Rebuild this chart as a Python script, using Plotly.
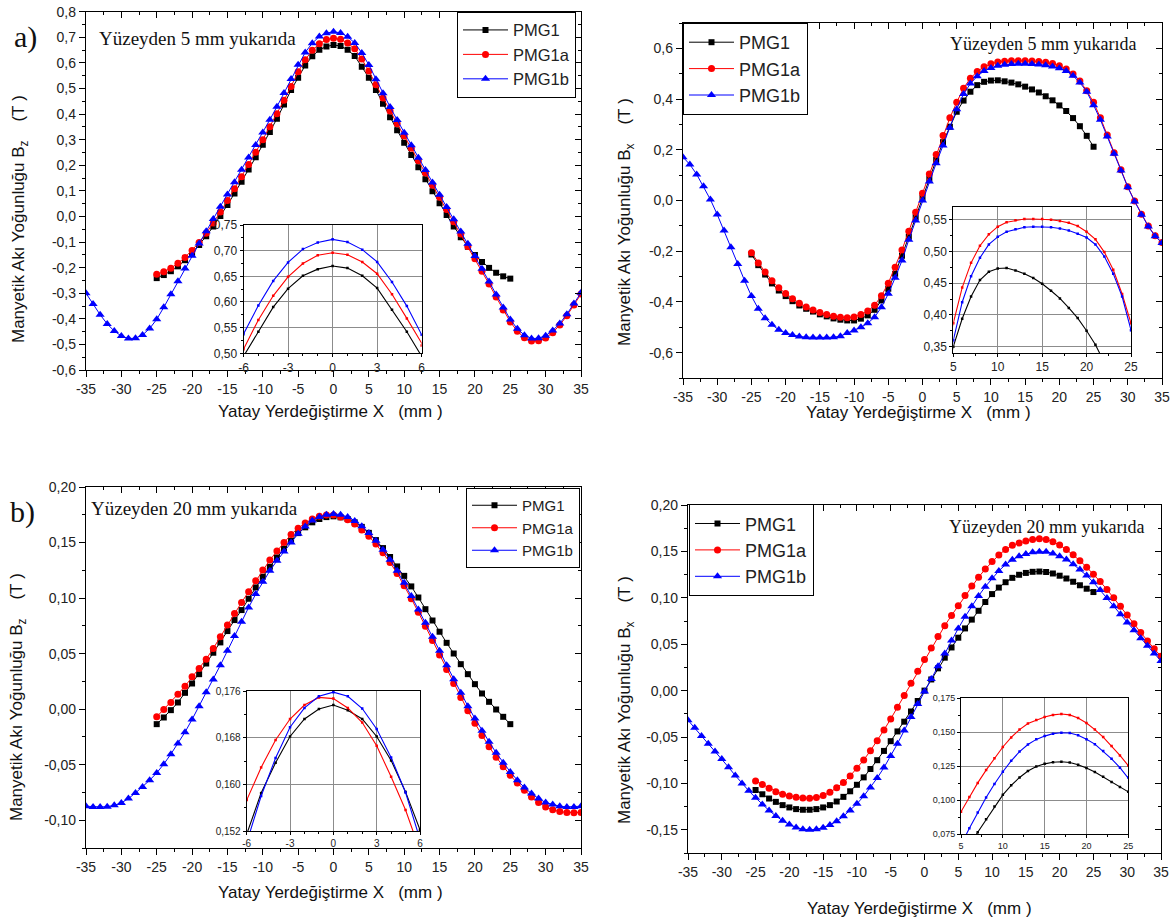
import plotly.graph_objects as go

W, H = 1175, 922

# ---------------- data (x in mm, B in Tesla) ----------------
X_B = list(range(-35, 36))   # PMG1b span
X_A = list(range(-25, 36))   # PMG1a span
X_K = list(range(-25, 26))   # PMG1 span

# a) Bz, 5 mm above surface
A_PMG1 = [-0.241, -0.229, -0.214, -0.195, -0.171, -0.143, -0.112, -0.077, -0.039, 0.002,
          0.045, 0.090, 0.136, 0.183, 0.231, 0.280, 0.330, 0.382, 0.437, 0.494,
          0.542, 0.590, 0.626, 0.651, 0.664, 0.670, 0.666, 0.651, 0.627, 0.585,
          0.542, 0.494, 0.440, 0.388, 0.337, 0.288, 0.240, 0.192, 0.145, 0.098,
          0.052, 0.006, -0.039, -0.081, -0.118, -0.151, -0.178, -0.201, -0.220, -0.234, -0.243]
A_PMG1a = [-0.226, -0.216, -0.202, -0.183, -0.160, -0.133, -0.102, -0.066, -0.026, 0.017,
           0.062, 0.108, 0.155, 0.203, 0.251, 0.300, 0.350, 0.401, 0.454, 0.508,
           0.565, 0.612, 0.649, 0.675, 0.691, 0.696, 0.692, 0.678, 0.655, 0.615,
           0.568, 0.515, 0.463, 0.412, 0.362, 0.314, 0.266, 0.218, 0.170, 0.122,
           0.075, 0.027, -0.021, -0.069, -0.117, -0.165, -0.214, -0.264, -0.315, -0.366,
           -0.412, -0.449, -0.474, -0.487, -0.486, -0.475, -0.454, -0.424, -0.388, -0.346, -0.303]
A_PMG1b = [-0.300, -0.342, -0.384, -0.420, -0.448, -0.467, -0.477, -0.476, -0.463, -0.438,
           -0.402, -0.355, -0.304, -0.253, -0.203, -0.154, -0.106, -0.058, -0.010, 0.038,
           0.086, 0.134, 0.182, 0.230, 0.279, 0.328, 0.378, 0.429, 0.482, 0.537,
           0.593, 0.641, 0.677, 0.703, 0.716, 0.722, 0.717, 0.702, 0.678, 0.639,
           0.592, 0.536, 0.481, 0.428, 0.377, 0.327, 0.278, 0.229, 0.181, 0.133,
           0.085, 0.037, -0.011, -0.059, -0.107, -0.155, -0.204, -0.254, -0.305, -0.356,
           -0.403, -0.439, -0.464, -0.477, -0.476, -0.466, -0.446, -0.418, -0.382, -0.340, -0.298]

# a) Bx, 5 mm above surface
B_PMG1 = [-0.213, -0.255, -0.292, -0.327, -0.355, -0.377, -0.397, -0.414, -0.427, -0.438,
          -0.449, -0.457, -0.465, -0.470, -0.473, -0.473, -0.466, -0.453, -0.431, -0.394,
          -0.348, -0.289, -0.218, -0.143, -0.066, 0.011, 0.086, 0.160, 0.230, 0.291,
          0.350, 0.394, 0.429, 0.455, 0.468, 0.473, 0.474, 0.470, 0.465, 0.458,
          0.449, 0.438, 0.426, 0.411, 0.395, 0.375, 0.353, 0.325, 0.293, 0.255, 0.212]
B_PMG1a = [-0.206, -0.246, -0.282, -0.316, -0.344, -0.367, -0.387, -0.405, -0.420, -0.432,
           -0.442, -0.450, -0.456, -0.460, -0.462, -0.459, -0.450, -0.436, -0.413, -0.376,
           -0.326, -0.263, -0.195, -0.121, -0.046, 0.029, 0.105, 0.181, 0.256, 0.326,
           0.387, 0.443, 0.482, 0.509, 0.527, 0.539, 0.546, 0.549, 0.551, 0.551,
           0.551, 0.550, 0.548, 0.545, 0.540, 0.531, 0.519, 0.499, 0.471, 0.433,
           0.387, 0.326, 0.258, 0.188, 0.121, 0.054, -0.002, -0.054, -0.101, -0.139, -0.166]
B_PMG1b = [0.171, 0.142, 0.103, 0.056, 0.004, -0.055, -0.118, -0.184, -0.250, -0.316,
           -0.377, -0.427, -0.464, -0.490, -0.510, -0.523, -0.530, -0.536, -0.539, -0.540,
           -0.540, -0.540, -0.539, -0.535, -0.523, -0.513, -0.500, -0.484, -0.460, -0.421,
           -0.368, -0.305, -0.237, -0.155, -0.079, 0.000, 0.075, 0.147, 0.217, 0.287,
           0.360, 0.420, 0.461, 0.490, 0.511, 0.523, 0.531, 0.535, 0.538, 0.539,
           0.539, 0.538, 0.536, 0.533, 0.528, 0.522, 0.511, 0.492, 0.465, 0.429,
           0.376, 0.318, 0.252, 0.184, 0.118, 0.052, -0.004, -0.056, -0.103, -0.141, -0.168]

# b) Bz, 20 mm above surface
C_PMG1 = [-0.0135, -0.0075, -0.0009, 0.0060, 0.0147, 0.0231, 0.0315, 0.0411, 0.0508, 0.0601,
          0.0703, 0.0802, 0.0892, 0.0994, 0.1096, 0.1192, 0.1282, 0.1366, 0.1444, 0.1516,
          0.1585, 0.1637, 0.1682, 0.1712, 0.1729, 0.1736,
          0.1727, 0.1712, 0.1682, 0.1641, 0.1587, 0.1522, 0.1450, 0.1370, 0.1285, 0.1200,
          0.1105, 0.1005, 0.0900, 0.0798, 0.0697, 0.0597, 0.0501, 0.0405, 0.0315, 0.0225,
          0.0141, 0.0066, -0.0003, -0.0069, -0.0135]
C_PMG1a = [-0.0069, -0.0003, 0.0060, 0.0135, 0.0207, 0.0291, 0.0366, 0.0450, 0.0547, 0.0652,
           0.0757, 0.0862, 0.0961, 0.1057, 0.1156, 0.1252, 0.1342, 0.1423, 0.1501, 0.1573,
           0.1629, 0.1676, 0.1712, 0.1736, 0.1749, 0.1747,
           0.1731, 0.1706, 0.1666, 0.1613, 0.1556, 0.1486, 0.1408, 0.1320, 0.1222, 0.1112,
           0.0995, 0.0872, 0.0746, 0.0618, 0.0488, 0.0358, 0.0230, 0.0105, -0.0015, -0.0128,
           -0.0237, -0.0338, -0.0432, -0.0518, -0.0596, -0.0665, -0.0730, -0.0790, -0.0840, -0.0880,
           -0.0906, -0.0922, -0.0930, -0.0932, -0.0930]
C_PMG1b = [-0.0874, -0.0880, -0.0880, -0.0878, -0.0865, -0.0844, -0.0805, -0.0754, -0.0700, -0.0640,
           -0.0574, -0.0495, -0.0405, -0.0309, -0.0207, -0.0093, 0.0027, 0.0153, 0.0267, 0.0396,
           0.0525, 0.0658, 0.0787, 0.0916, 0.1036, 0.1147, 0.1246, 0.1336, 0.1420, 0.1500,
           0.1580, 0.1645, 0.1698, 0.1731, 0.1751, 0.1758,
           0.1751, 0.1730, 0.1695, 0.1646, 0.1586, 0.1515, 0.1435, 0.1345, 0.1245, 0.1137,
           0.1018, 0.0898, 0.0778, 0.0652, 0.0526, 0.0396, 0.0270, 0.0147, 0.0027, -0.0084,
           -0.0195, -0.0294, -0.0393, -0.0483, -0.0565, -0.0640, -0.0706, -0.0760, -0.0805, -0.0841,
           -0.0859, -0.0874, -0.0880, -0.0880, -0.0874]

# b) Bx, 20 mm above surface
D_PMG1 = [-0.1071, -0.1117, -0.1163, -0.1199, -0.1234, -0.1259, -0.1277, -0.1284, -0.1284, -0.1277,
          -0.1259, -0.1234, -0.1195, -0.1145, -0.1085, -0.1015, -0.0935, -0.0845, -0.0750, -0.0650,
          -0.0545, -0.0440, -0.0335, -0.0225, -0.0112, 0.0000,
          0.0120, 0.0240, 0.0355, 0.0465, 0.0570, 0.0670, 0.0765, 0.0860, 0.0955, 0.1040,
          0.1110, 0.1168, 0.1215, 0.1248, 0.1268, 0.1280, 0.1283, 0.1278, 0.1262, 0.1238,
          0.1208, 0.1173, 0.1135, 0.1098, 0.1062]
D_PMG1a = [-0.0975, -0.1011, -0.1053, -0.1089, -0.1117, -0.1135, -0.1150, -0.1158, -0.1160, -0.1152,
           -0.1130, -0.1095, -0.1048, -0.0990, -0.0920, -0.0838, -0.0748, -0.0648, -0.0540, -0.0425,
           -0.0305, -0.0180, -0.0052, 0.0078, 0.0208,
           0.0335, 0.0460, 0.0582, 0.0700, 0.0810,
           0.0915, 0.1025, 0.1128, 0.1222, 0.1310, 0.1392, 0.1462, 0.1520, 0.1565, 0.1590,
           0.1612, 0.1628, 0.1635, 0.1628, 0.1605, 0.1568, 0.1520, 0.1465, 0.1400, 0.1330, 0.1255,
           0.1175, 0.1090, 0.1000, 0.0910, 0.0815, 0.0720, 0.0625, 0.0535, 0.0450, 0.0370]
D_PMG1b = [-0.0319, -0.0400, -0.0489, -0.0574, -0.0656, -0.0738, -0.0826, -0.0915, -0.1000, -0.1080,
           -0.1155, -0.1228, -0.1292, -0.1350, -0.1402, -0.1443, -0.1475, -0.1494, -0.1500, -0.1495,
           -0.1478, -0.1448, -0.1408, -0.1355, -0.1292, -0.1220, -0.1138, -0.1045, -0.0942, -0.0830,
           -0.0705, -0.0572, -0.0430, -0.0285, -0.0145, -0.0010, 0.0125, 0.0262, 0.0400, 0.0540,
           0.0670, 0.0795, 0.0910, 0.1020, 0.1120, 0.1210, 0.1290, 0.1358, 0.1410, 0.1448,
           0.1472, 0.1490, 0.1497, 0.1495, 0.1478, 0.1449, 0.1413, 0.1362, 0.1305, 0.1240, 0.1167,
           0.1085, 0.0998, 0.0910, 0.0822, 0.0735, 0.0649, 0.0565, 0.0482, 0.0400, 0.0320]

SERIES = ["PMG1", "PMG1a", "PMG1b"]

# ---------------- tick labels ----------------
X_TICKS = [-35, -30, -25, -20, -15, -10, -5, 0, 5, 10, 15, 20, 25, 30, 35]
X_TICKTEXT = ["-35", "-30", "-25", "-20", "-15", "-10", "-5", "0", "5", "10", "15", "20", "25", "30", "35"]
A_YTICKS = [-0.6, -0.5, -0.4, -0.3, -0.2, -0.1, 0.0, 0.1, 0.2, 0.3, 0.4, 0.5, 0.6, 0.7, 0.8]
A_YTEXT = ["-0,6", "-0,5", "-0,4", "-0,3", "-0,2", "-0,1", "0,0", "0,1", "0,2", "0,3", "0,4", "0,5", "0,6", "0,7", "0,8"]
B_YTICKS = [-0.6, -0.4, -0.2, 0.0, 0.2, 0.4, 0.6]
B_YTEXT = ["-0,6", "-0,4", "-0,2", "0,0", "0,2", "0,4", "0,6"]
C_YTICKS = [-0.10, -0.05, 0.0, 0.05, 0.10, 0.15, 0.20]
C_YTEXT = ["-0,10", "-0,05", "0,00", "0,05", "0,10", "0,15", "0,20"]
D_YTICKS = [-0.15, -0.10, -0.05, 0.0, 0.05, 0.10, 0.15, 0.20]
D_YTEXT = ["-0,15", "-0,10", "-0,05", "0,00", "0,05", "0,10", "0,15", "0,20"]

IA_XTICKS = [-6, -3, 0, 3, 6]
IA_XTEXT = ["-6", "-3", "0", "3", "6"]
IA_YTICKS = [0.50, 0.55, 0.60, 0.65, 0.70, 0.75]
IA_YTEXT = ["0,50", "0,55", "0,60", "0,65", "0,70", "0,75"]
IB_XTICKS = [5, 10, 15, 20, 25]
IB_XTEXT = ["5", "10", "15", "20", "25"]
IB_YTICKS = [0.35, 0.40, 0.45, 0.50, 0.55]
IB_YTEXT = ["0,35", "0,40", "0,45", "0,50", "0,55"]
IC_YTICKS = [0.152, 0.160, 0.168, 0.176]
IC_YTEXT = ["0,152", "0,160", "0,168", "0,176"]
ID_YTICKS = [0.075, 0.100, 0.125, 0.150, 0.175]
ID_YTEXT = ["0,075", "0,100", "0,125", "0,150", "0,175"]

COLORS = ["#000000", "#ff0000", "#0000ff"]
SYMBOLS = ["square", "circle", "triangle-up"]
MSIZE = [6, 7, 8]
SANS = "Liberation Sans, Arial, sans-serif"
SERIF = "Liberation Serif, Times New Roman, serif"


def dom_x(p0, p1):
    return [p0 / W, p1 / W]


def dom_y(top, bottom):
    return [1 - bottom / H, 1 - top / H]


def paper_x(px):
    return px / W


def paper_y(py):
    return 1 - py / H


panels = [
    dict(data=(A_PMG1, A_PMG1a, A_PMG1b), xd=(86, 581), yd=(11.7, 370), yr=[-0.6, 0.8],
         yt=(A_YTICKS, A_YTEXT), ymin=0.05, legend=(457, 11.7, 16.5),
         inset=dict(xd=(243.5, 421.7), yd=(225, 353.3), xr=[-6, 6], yr=[0.50, 0.75],
                    xt=(IA_XTICKS, IA_XTEXT), yt=(IA_YTICKS, IA_YTEXT), fs=12, xmin=1, ymin=0.025)),
    dict(data=(B_PMG1, B_PMG1a, B_PMG1b), xd=(683, 1162), yd=(23, 378), yr=[-0.7, 0.7],
         yt=(B_YTICKS, B_YTEXT), ymin=0.1, legend=(683, 23, 18),
         inset=dict(xd=(953.3, 1131), yd=(207, 353), xr=[5, 25], yr=[0.34, 0.57],
                    xt=(IB_XTICKS, IB_XTEXT), yt=(IB_YTICKS, IB_YTEXT), fs=12, xmin=2.5, ymin=0.025)),
    dict(data=(C_PMG1, C_PMG1a, C_PMG1b), xd=(86, 581), yd=(487, 848), yr=[-0.125, 0.2],
         yt=(C_YTICKS, C_YTEXT), ymin=0.025, legend=(466, 488, 15),
         inset=dict(xd=(246.7, 420), yd=(691, 831), xr=[-6, 6], yr=[0.152, 0.176],
                    xt=(IA_XTICKS, IA_XTEXT), yt=(IC_YTICKS, IC_YTEXT), fs=10, xmin=1, ymin=0.004)),
    dict(data=(D_PMG1, D_PMG1a, D_PMG1b), xd=(688, 1161), yd=(505, 853), yr=[-0.175, 0.2],
         yt=(D_YTICKS, D_YTEXT), ymin=0.025, legend=(689, 504.3, 18),
         inset=dict(xd=(961, 1128.3), yd=(698.3, 834.3), xr=[5, 25], yr=[0.075, 0.175],
                    xt=(IB_XTICKS, IB_XTEXT), yt=(ID_YTICKS, ID_YTEXT), fs=9, xmin=2.5, ymin=0.0125)),
]

fig = go.Figure()
layout = dict(template="none", width=W, height=H,
              margin=dict(l=0, r=0, t=0, b=0, pad=0, autoexpand=False),
              paper_bgcolor="white", plot_bgcolor="white", showlegend=True,
              font=dict(family=SANS, color="#222"))
annotations = []

xs_all = (X_K, X_A, X_B)
for i, p in enumerate(panels):
    n = i + 1
    nin = i + 5
    nov = i + 9
    xa = "x" if n == 1 else f"x{n}"
    ya = "y" if n == 1 else f"y{n}"
    lg = "legend" if n == 1 else f"legend{n}"
    for k in range(3):
        fig.add_trace(go.Scatter(
            x=xs_all[k], y=p["data"][k], mode="lines+markers", name=SERIES[k],
            line=dict(color=COLORS[k], width=1),
            marker=dict(symbol=SYMBOLS[k], size=MSIZE[k], color=COLORS[k], line=dict(width=0)),
            xaxis=xa, yaxis=ya, legend=lg, showlegend=True))
    for k in range(3):
        fig.add_trace(go.Scatter(
            x=xs_all[k], y=p["data"][k], mode="lines+markers", name=SERIES[k],
            line=dict(color=COLORS[k], width=1.1),
            marker=dict(symbol="square", size=2.5, color=COLORS[k], line=dict(width=0)),
            xaxis=f"x{nin}", yaxis=f"y{nin}", showlegend=False, hoverinfo="skip"))
    fig.add_trace(go.Scatter(x=[None], y=[None], xaxis=f"x{nov}", yaxis=f"y{nov}",
                             showlegend=False, hoverinfo="skip"))

    xkey = "xaxis" if n == 1 else f"xaxis{n}"
    ykey = "yaxis" if n == 1 else f"yaxis{n}"
    layout[xkey] = dict(domain=dom_x(*p["xd"]), range=[-35, 35], anchor=ya, automargin=False,
                        tickmode="array", tickvals=X_TICKS, ticktext=X_TICKTEXT,
                        ticks="outside", ticklen=6, tickwidth=1, tickcolor="black",
                        minor=dict(tickmode="linear", tick0=-35, dtick=2.5, ticks="outside",
                                   ticklen=3, tickcolor="black"),
                        showline=True, linecolor="black", linewidth=1.3, mirror=True,
                        showgrid=False, zeroline=False, ticklabeloverflow="allow",
                        tickfont=dict(size=14, family=SANS, color="#222"))
    layout[ykey] = dict(domain=dom_y(*p["yd"]), range=p["yr"], anchor=xa, automargin=False,
                        tickmode="array", tickvals=p["yt"][0], ticktext=p["yt"][1],
                        ticks="outside", ticklen=6, tickwidth=1, tickcolor="black",
                        minor=dict(tickmode="linear", tick0=0, dtick=p["ymin"], ticks="outside",
                                   ticklen=3, tickcolor="black"),
                        showline=True, linecolor="black", linewidth=1.3, mirror=True,
                        showgrid=False, zeroline=False, ticklabeloverflow="allow",
                        tickfont=dict(size=14, family=SANS, color="#222"))
    layout[f"xaxis{nov}"] = dict(overlaying=xa, side="top", range=[-35, 35], anchor=f"y{nov}",
                                 automargin=False,
                                 tickmode="array", tickvals=X_TICKS, showticklabels=False,
                                 ticks="inside", ticklen=6, tickcolor="black",
                                 minor=dict(tickmode="linear", tick0=-35, dtick=2.5, ticks="inside",
                                            ticklen=3, tickcolor="black"),
                                 showline=False, showgrid=False, zeroline=False)
    layout[f"yaxis{nov}"] = dict(overlaying=ya, side="right", range=p["yr"], anchor=f"x{nov}",
                                 automargin=False,
                                 tickmode="array", tickvals=p["yt"][0], showticklabels=False,
                                 ticks="inside", ticklen=6, tickcolor="black",
                                 minor=dict(tickmode="linear", tick0=0, dtick=p["ymin"], ticks="inside",
                                            ticklen=3, tickcolor="black"),
                                 showline=False, showgrid=False, zeroline=False)
    ins = p["inset"]
    layout[f"xaxis{nin}"] = dict(domain=dom_x(*ins["xd"]), range=ins["xr"], anchor=f"y{nin}",
                                 automargin=False,
                                 tickmode="array", tickvals=ins["xt"][0], ticktext=ins["xt"][1],
                                 ticks="outside", ticklen=3, tickcolor="black",
                                 minor=dict(tickmode="linear", tick0=0, dtick=ins["xmin"],
                                            ticks="outside", ticklen=2, tickcolor="black"),
                                 showline=True, linecolor="black", linewidth=1, mirror=True,
                                 showgrid=True, gridcolor="#8c8c8c", gridwidth=1.2, zeroline=False,
                                 tickfont=dict(size=ins["fs"], family=SANS, color="#222"))
    layout[f"yaxis{nin}"] = dict(domain=dom_y(*ins["yd"]), range=ins["yr"], anchor=f"x{nin}",
                                 automargin=False,
                                 tickmode="array", tickvals=ins["yt"][0], ticktext=ins["yt"][1],
                                 ticks="outside", ticklen=3, tickcolor="black",
                                 minor=dict(tickmode="linear", tick0=0, dtick=ins["ymin"],
                                            ticks="outside", ticklen=2, tickcolor="black"),
                                 showline=True, linecolor="black", linewidth=1, mirror=True,
                                 showgrid=True, gridcolor="#8c8c8c", gridwidth=1.2, zeroline=False,
                                 tickfont=dict(size=ins["fs"], family=SANS, color="#222"))
    lx, ly, lfs = p["legend"]
    layout[lg] = dict(x=paper_x(lx), y=paper_y(ly), xanchor="left", yanchor="top",
                      xref="paper", yref="paper",
                      bgcolor="white", bordercolor="black", borderwidth=1,
                      itemwidth=45, tracegroupgap=0,
                      font=dict(size=lfs, family=SANS, color="#222"))

fig.update_layout(**layout)


def ann(text, px, py, size, family=SANS, angle=0, xanchor="center"):
    annotations.append(dict(text=text, x=paper_x(px), y=paper_y(py), xref="paper", yref="paper",
                            showarrow=False, textangle=angle, xanchor=xanchor, yanchor="middle",
                            font=dict(size=size, family=family, color="#111")))


NB = "\u00a0"
YT_Z = "Manyetik Akı Yoğunluğu B<sub>z</sub>" + NB * 4 + "(T" + NB + ")"
YT_X = "Manyetik Akı Yoğunluğu B<sub>x</sub>" + NB * 4 + "(T" + NB + ")"
XT = "Yatay Yerdeğiştirme X" + NB * 3 + "(mm" + NB + ")"

ann("a)", 25, 37, 30, SERIF)
ann("b)", 22, 512, 30, SERIF)
ann("Yüzeyden 5 mm yukarıda", 97, 38, 19, SERIF, xanchor="left")
ann("Yüzeyden 5 mm yukarıda", 948, 44, 18, SERIF, xanchor="left")
ann("Yüzeyden 20 mm yukarıda", 89, 508, 19, SERIF, xanchor="left")
ann("Yüzeyden 20 mm yukarıda", 947, 527, 18, SERIF, xanchor="left")
ann(YT_Z, 20, 219, 17, angle=-90)
ann(YT_X, 626, 222, 17, angle=-90)
ann(YT_Z, 18, 697, 17, angle=-90)
ann(YT_X, 626, 700, 17, angle=-90)
ann(XT, 330, 411, 17)
ann(XT, 918, 412, 17)
ann(XT, 330, 892, 17)
ann(XT, 919, 908, 17)

fig.update_layout(annotations=annotations)
fig.write_html("out.html", config={"displayModeBar": False},
               post_script="document.body.style.margin='0';document.body.style.padding='0';"
                           "document.body.style.overflow='hidden';")
